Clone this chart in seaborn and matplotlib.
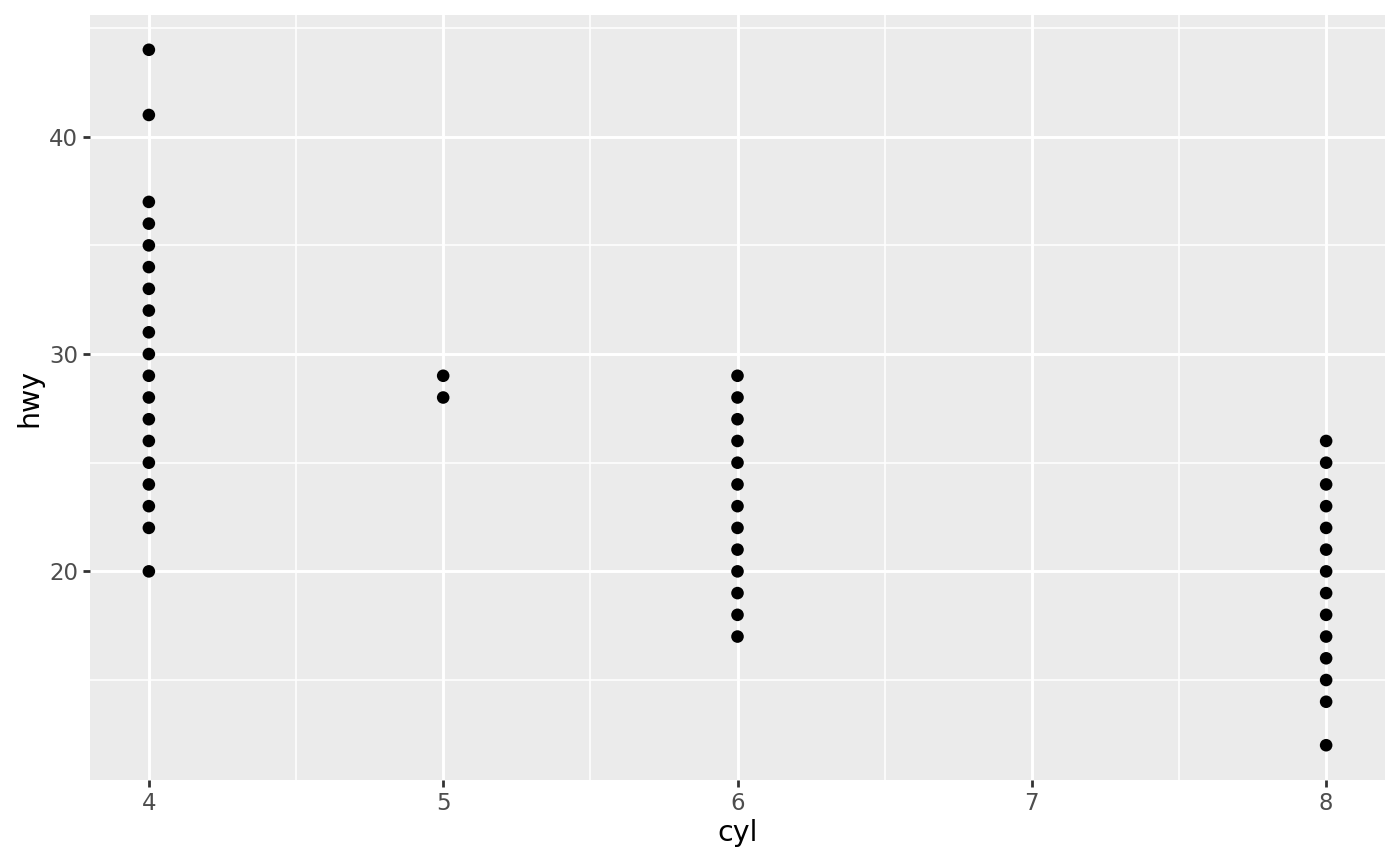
import numpy as np
import pandas as pd
import matplotlib
matplotlib.use("Agg")
import matplotlib.pyplot as plt
import seaborn as sns
from matplotlib.ticker import FixedLocator

hwy_cyl4 = [44, 41, 37, 36, 35, 34, 33, 32, 31, 30, 29, 28, 27, 26, 25, 24, 23, 22, 20]
hwy_cyl5 = [29, 28]
hwy_cyl6 = [29, 28, 27, 26, 25, 24, 23, 22, 21, 20, 19, 18, 17]
hwy_cyl8 = [26, 25, 24, 23, 22, 21, 20, 19, 18, 17, 16, 15, 14, 12]

cyl_vals = [4] * len(hwy_cyl4) + [5] * len(hwy_cyl5) + [6] * len(hwy_cyl6) + [8] * len(hwy_cyl8)
hwy_vals = hwy_cyl4 + hwy_cyl5 + hwy_cyl6 + hwy_cyl8
df = pd.DataFrame({"cyl": cyl_vals, "hwy": hwy_vals})

x_ticks = [4, 5, 6, 7, 8]
y_ticks = [20, 30, 40]

sns.set_theme(style="darkgrid")
plt.rcParams["font.family"] = ["DejaVu Sans"]
fig = plt.figure(figsize=(14, 8.66), dpi=100)
ax = fig.add_axes([90 / 1400, 1 - 780 / 866, (1385 - 90) / 1400, (780 - 15) / 866])
ax.set_facecolor("#EBEBEB")

sns.scatterplot(data=df, x="cyl", y="hwy", ax=ax, color="black", s=82,
                edgecolor="none", linewidth=0, zorder=3)

ax.set_xlim(3.8, 8.2)
ax.set_ylim(10.4, 45.6)
ax.xaxis.set_major_locator(FixedLocator(x_ticks))
ax.yaxis.set_major_locator(FixedLocator(y_ticks))
ax.xaxis.set_minor_locator(FixedLocator([4.5, 5.5, 6.5, 7.5]))
ax.yaxis.set_minor_locator(FixedLocator([15, 25, 35, 45]))
ax.grid(which="major", color="white", linewidth=2.1)
ax.grid(which="minor", color="white", linewidth=1.1)
ax.set_axisbelow(True)
for sp in ax.spines.values():
    sp.set_visible(False)

ax.tick_params(axis="both", which="major", length=5.3, width=2.0, color="#333333",
               labelcolor="#4D4D4D", labelsize=16.5, pad=3.4, direction="out",
               bottom=True, left=True)
ax.tick_params(axis="both", which="minor", length=0)
ax.set_xlabel("cyl", fontsize=20.5, color="black", labelpad=3)
ax.set_ylabel("hwy", fontsize=20.5, color="black", labelpad=4)

fig.savefig("out.png", dpi=100, facecolor="white")
